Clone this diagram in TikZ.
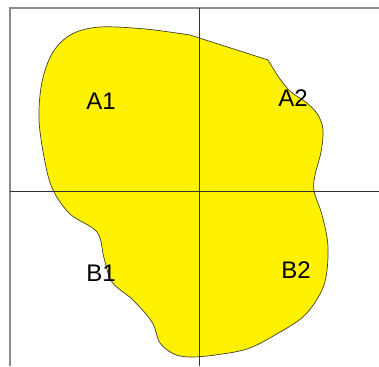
\documentclass[tikz,border=0pt]{standalone}
\usepackage{fontspec}
\setmainfont{Liberation Sans}
\begin{document}
\begin{tikzpicture}[x=1pt,y=-1pt,
  frame/.style={draw=black!45,line width=1.2pt},
  axis/.style={draw=black!80,line width=0.8pt},
  region/.style={fill=yellow,draw=black!70!olive,line width=0.7pt},
  lbl/.style={font=\fontsize{24}{24}\selectfont,text=black,inner sep=0pt}]
\useasboundingbox (0,0) rectangle (379,366);
\fill[white] (0,0) rectangle (379,366);
\path[region] plot[smooth,tension=0.55] coordinates {(268,60) (280,79) (291,92) (307,103) (318,115) (323,130) (321,152) (315,175) (314,191) (322,215) (328,247) (324,285) (305,315) (275,335) (247,349) (215,355) (190,357) (174,354) (160,343) (152,322) (133,300) (112,282) (104,258) (97,232) (70,214) (53,190) (45,162) (39,120) (42,82) (53,52) (72,34) (100,27) (145,29) (190,35)} -- cycle;
\coordinate (tl) at (10,8);
\coordinate (tr) at (379,8);
\coordinate (bl) at (10,366);
\draw[frame] (bl) -- (tl) -- (tr);
\coordinate (vt) at (199,8);
\coordinate (vb) at (199,366);
\coordinate (hl) at (10,191);
\coordinate (hr) at (379,191);
\draw[axis] (vt) -- (vb);
\draw[axis] (hl) -- (hr);
\node[lbl] (a1) at (101,101) {A1};
\node[lbl] (a2) at (293,98) {A2};
\node[lbl] (b1) at (101,273) {B1};
\node[lbl] (b2) at (296,270) {B2};
\end{tikzpicture}
\end{document}
